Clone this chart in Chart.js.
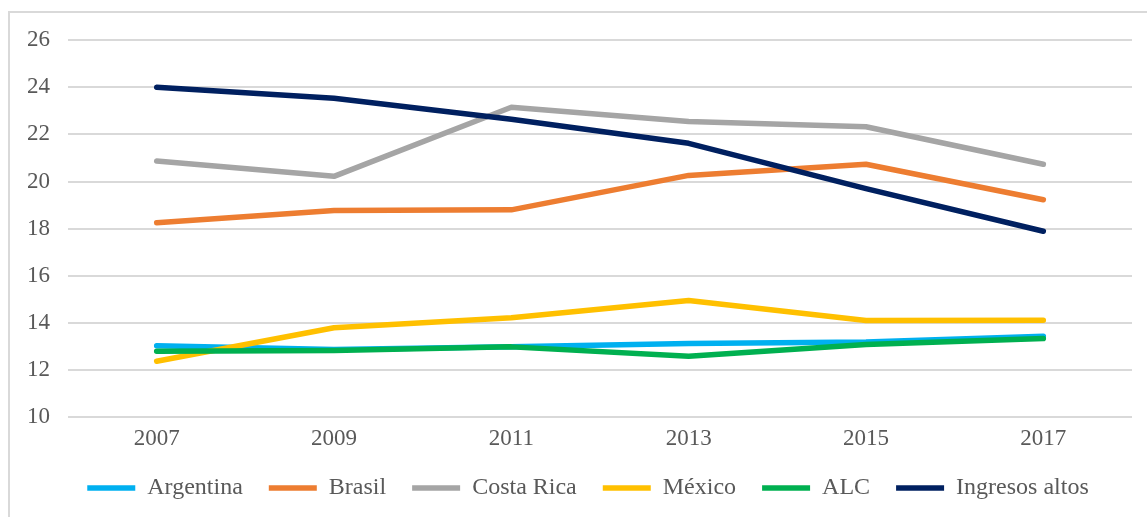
<!DOCTYPE html>
<html>
<head>
<meta charset="utf-8">
<script src="https://cdn.jsdelivr.net/npm/chart.js@4/dist/chart.umd.min.js"></script>
<style>
  html, body { margin: 0; padding: 0; background: #ffffff; }
  #wrap { position: relative; width: 1147px; height: 517px; overflow: hidden; }
  #frame {
    position: absolute; left: 8px; top: 11px; width: 1200px; height: 600px;
    border-top: 2px solid #d9d9d9; border-left: 2px solid #d9d9d9;
    box-sizing: border-box;
  }
  #chart { position: absolute; left: 0; top: 0; }
</style>
</head>
<body>
<div id="wrap">
  <div id="frame"></div>
  <canvas id="chart" width="1147" height="517"></canvas>
</div>
<script>
// Years on the horizontal axis
const years = ['2007', '2009', '2011', '2013', '2015', '2017'];

// Series values
const argentina = [13.04, 12.88, 12.99, 13.13, 13.2, 13.44];
const brasil = [18.25, 18.77, 18.8, 20.26, 20.73, 19.23];
const costaRica = [20.87, 20.22, 23.15, 22.54, 22.32, 20.73];
const mexico = [12.38, 13.8, 14.22, 14.96, 14.11, 14.12];
const alc = [12.8, 12.84, 12.99, 12.59, 13.09, 13.34];
const ingresosAltos = [24.0, 23.53, 22.64, 21.62, 19.7, 17.89];

const yTicks = [10, 12, 14, 16, 18, 20, 22, 24, 26];

const serifFont = "'Liberation Serif', 'Times New Roman', serif";
const textColor = '#595959';

function series(label, data, color, order) {
    return {
        label: label,
        data: data,
        borderColor: color,
        backgroundColor: color,
        borderWidth: 5.5,
        borderCapStyle: 'round',
        borderJoinStyle: 'round',
        pointRadius: 0,
        pointHoverRadius: 0,
        tension: 0,
        fill: false,
        order: order   // later series are painted on top
    };
}

// nudge the legend row a little to the right of the plot centre
const legendShift = {
    id: 'legendShift',
    afterLayout: function (chart) {
        if (chart.legend) {
            chart.legend.left += 12;
            chart.legend.right += 12;
        }
    }
};

const ctx = document.getElementById('chart').getContext('2d');

new Chart(ctx, {
    type: 'line',
    data: {
        labels: years,
        datasets: [
            series('Argentina', argentina, '#00b0f0', 5),
            series('Brasil', brasil, '#ed7d31', 4),
            series('Costa Rica', costaRica, '#a5a5a5', 3),
            series('México', mexico, '#ffc000', 2),
            series('ALC', alc, '#00b050', 1),
            series('Ingresos altos', ingresosAltos, '#002060', 0)
        ]
    },
    plugins: [legendShift],
    options: {
        responsive: false,
        animation: false,
        layout: {
            padding: { left: 20, top: 40, right: 15, bottom: 7 }
        },
        scales: {
            x: {
                offset: true,
                afterFit: function (scale) { scale.height -= 11; },
                grid: { display: false, drawTicks: false },
                border: { display: false },
                ticks: {
                    padding: 8,
                    color: textColor,
                    font: { family: serifFont, size: 23 }
                }
            },
            y: {
                min: 10,
                max: 26,
                afterFit: function (scale) { scale.width = 48; },
                afterBuildTicks: function (scale) {
                    scale.ticks = yTicks.map(function (v) { return { value: v }; });
                },
                grid: { color: '#d9d9d9', lineWidth: 2, drawTicks: false },
                border: { display: false },
                ticks: {
                    padding: 18,
                    color: textColor,
                    font: { family: serifFont, size: 23 }
                }
            }
        },
        plugins: {
            tooltip: { enabled: false },
            legend: {
                position: 'bottom',
                labels: {
                    usePointStyle: true,
                    pointStyle: 'line',
                    pointStyleWidth: 48,
                    padding: 26,
                    color: textColor,
                    font: { family: serifFont, size: 24 },
                    sort: function (a, b) { return a.datasetIndex - b.datasetIndex; }
                }
            }
        }
    }
});
</script>
</body>
</html>
